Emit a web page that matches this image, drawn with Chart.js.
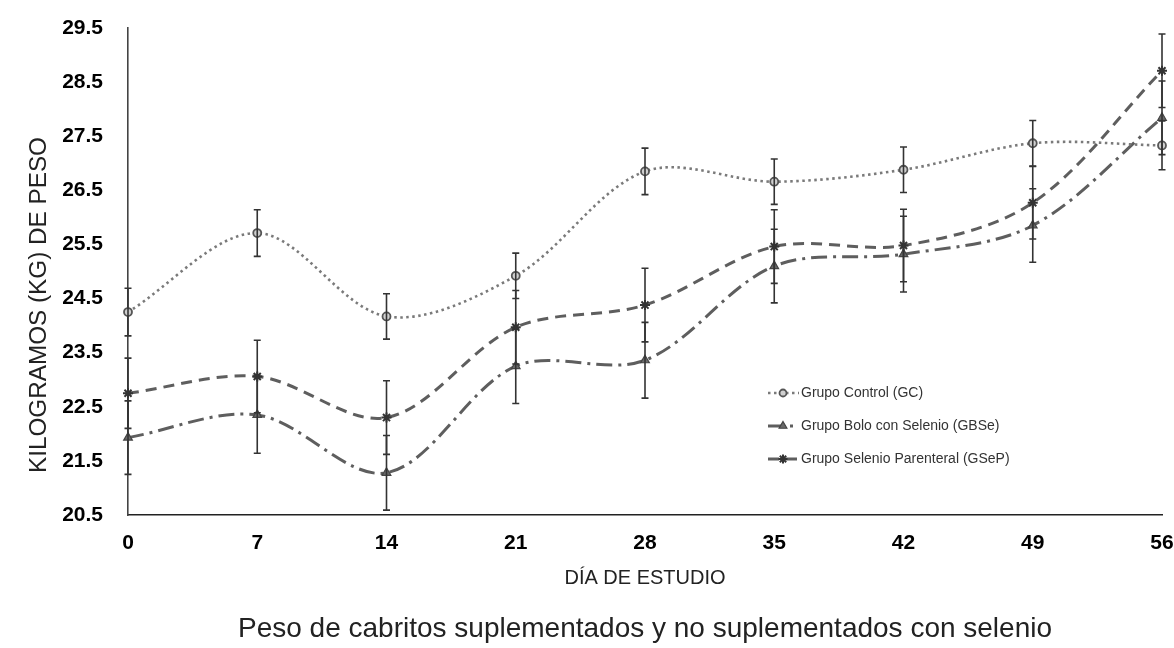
<!DOCTYPE html>
<html>
<head>
<meta charset="utf-8">
<script src="https://cdn.jsdelivr.net/npm/chart.js@4.4.1/dist/chart.umd.min.js"></script>
<style>
  html, body { margin: 0; padding: 0; background: #fff; }
  #wrap { width: 1174px; height: 648px; }
</style>
</head>
<body>
<div id="wrap"><canvas id="chart" width="1174" height="648"></canvas></div>
<script>
// Study days (x axis) and weight ticks (y axis)
const days = [0, 7, 14, 21, 28, 35, 42, 49, 56];
const weightTicks = [20.5, 21.5, 22.5, 23.5, 24.5, 25.5, 26.5, 27.5, 28.5, 29.5];

// Mean weight (kg) per group and its error (±)
const controlMean = [24.25, 25.71, 24.17, 24.92, 26.85, 26.66, 26.88, 27.37, 27.33];
const controlErr  = [0.44, 0.43, 0.42, 0.42, 0.43, 0.42, 0.42, 0.42, 0.45];
const boloMean    = [21.93, 22.35, 21.28, 23.25, 23.36, 25.10, 25.32, 25.85, 27.84];
const boloErr     = [0.68, 0.71, 0.69, 0.69, 0.70, 0.68, 0.70, 0.68, 0.68];
const parentMean  = [22.75, 23.06, 22.30, 23.97, 24.38, 25.46, 25.48, 26.27, 28.71];
const parentErr   = [0.65, 0.67, 0.68, 0.68, 0.68, 0.68, 0.67, 0.67, 0.68];

const seriesLabels = [
  'Grupo Control (GC)',
  'Grupo Bolo con Selenio (GBSe)',
  'Grupo Selenio Parenteral (GSeP)'
];
const yTitle = 'KILOGRAMOS (KG) DE PESO';
const xTitle = 'DÍA DE ESTUDIO';
const caption = 'Peso de cabritos suplementados y no suplementados con selenio';

const FONT = "'Liberation Sans', Arial, Helvetica, sans-serif";

const toPoints = (vals) => days.map((d, i) => ({ x: d, y: vals[i] }));

// Vertical error bars with small caps
const errorBars = {
  id: 'errorBars',
  afterDatasetsDraw(chart) {
    const { ctx, scales: { x, y } } = chart;
    ctx.save();
    ctx.strokeStyle = '#333';
    ctx.lineWidth = 1.6;
    ctx.setLineDash([]);
    chart.data.datasets.forEach(ds => {
      ds.data.forEach((p, i) => {
        const e = ds.errors[i];
        const px = x.getPixelForValue(p.x);
        const top = y.getPixelForValue(p.y + e);
        const bot = y.getPixelForValue(p.y - e);
        ctx.beginPath();
        ctx.moveTo(px, top); ctx.lineTo(px, bot);
        ctx.moveTo(px - 3.5, top); ctx.lineTo(px + 3.5, top);
        ctx.moveTo(px - 3.5, bot); ctx.lineTo(px + 3.5, bot);
        ctx.stroke();
      });
    });
    ctx.restore();
  }
};

// Legend drawn inside the plot, lower right
const insideLegend = {
  id: 'insideLegend',
  afterDraw(chart) {
    const { ctx } = chart;
    const rows = [393, 426, 459];
    ctx.save();
    chart.data.datasets.forEach((ds, i) => {
      const yy = rows[i];
      ctx.strokeStyle = ds.borderColor;
      ctx.lineWidth = ds.borderWidth;
      ctx.setLineDash(ds.borderDash || []);
      ctx.beginPath();
      ctx.moveTo(768, yy); ctx.lineTo(799, yy);
      ctx.stroke();
      ctx.setLineDash([]);
      ctx.fillStyle = ds.pointBackgroundColor;
      ctx.strokeStyle = ds.pointBorderColor;
      ctx.lineWidth = ds.pointBorderWidth;
      Chart.helpers.drawPoint(ctx, {
        pointStyle: ds.pointStyle, rotation: 0,
        radius: ds.pointRadius - 0.5, borderWidth: ds.pointBorderWidth
      }, 783, yy);
      ctx.fillStyle = '#333';
      ctx.font = '14px ' + FONT;
      ctx.textBaseline = 'middle';
      ctx.textAlign = 'left';
      ctx.fillText(ds.label, 801, yy);
    });
    ctx.restore();
  }
};

// Rotated y axis title and the caption under the axis
const outerTexts = {
  id: 'outerTexts',
  afterDraw(chart) {
    const { ctx, chartArea } = chart;
    ctx.save();
    ctx.font = '23px ' + FONT;
    ctx.fillStyle = '#222';
    ctx.textAlign = 'center';
    ctx.textBaseline = 'middle';
    const w = ctx.measureText(yTitle).width;
    ctx.translate(40, 305);
    ctx.rotate(-Math.PI / 2);
    ctx.scale(336 / w, 1);
    ctx.fillText(yTitle, 0, 0);
    ctx.restore();

    ctx.save();
    ctx.font = '28px ' + FONT;
    ctx.fillStyle = '#222';
    ctx.textAlign = 'center';
    ctx.textBaseline = 'middle';
    ctx.fillText(caption, (chartArea.left + chartArea.right) / 2, 629);
    ctx.restore();
  }
};

new Chart(document.getElementById('chart'), {
  type: 'line',
  data: {
    datasets: [
      {
        label: seriesLabels[0],
        data: toPoints(controlMean),
        errors: controlErr,
        borderColor: '#7a7a7a',
        borderWidth: 2.6,
        borderDash: [2.5, 3.5],
        pointStyle: 'circle',
        pointRadius: 4,
        pointBackgroundColor: '#d0d0d0',
        pointBorderColor: '#555',
        pointBorderWidth: 1.8,
        tension: 0.33,
        clip: false
      },
      {
        label: seriesLabels[1],
        data: toPoints(boloMean),
        errors: boloErr,
        borderColor: '#5e5e5e',
        borderWidth: 3,
        borderDash: [16, 6, 3, 6],
        pointStyle: 'triangle',
        pointRadius: 5,
        pointBackgroundColor: '#6a6a6a',
        pointBorderColor: '#444',
        pointBorderWidth: 1.2,
        tension: 0.33,
        clip: false
      },
      {
        label: seriesLabels[2],
        data: toPoints(parentMean),
        errors: parentErr,
        borderColor: '#5e5e5e',
        borderWidth: 3,
        borderDash: [11, 7],
        pointStyle: 'star',
        pointRadius: 5,
        pointBackgroundColor: '#444',
        pointBorderColor: '#333',
        pointBorderWidth: 2,
        tension: 0.33,
        clip: false
      }
    ]
  },
  options: {
    responsive: false,
    animation: false,
    devicePixelRatio: 1,
    layout: { padding: { top: 28, right: 12, left: 0, bottom: 0 } },
    plugins: {
      legend: { display: false },
      tooltip: { enabled: false },
      title: { display: false }
    },
    scales: {
      x: {
        type: 'linear',
        min: 0,
        max: 56,
        afterBuildTicks: (s) => { s.ticks = days.map(v => ({ value: v })); },
        afterFit: (s) => {
          s.height = 648 - 515;
          s.paddingLeft = 0;
          s.paddingRight = 0;
        },
        grid: { display: false, drawTicks: false },
        border: { display: true, color: '#222', width: 1.6 },
        ticks: {
          color: '#000',
          font: { family: FONT, size: 21, weight: 'bold' },
          padding: 16,
          maxRotation: 0,
          autoSkip: false
        },
        title: {
          display: true,
          text: xTitle,
          color: '#222',
          font: { family: FONT, size: 20, weight: 'normal' },
          padding: { top: 0, bottom: 58 }
        }
      },
      y: {
        type: 'linear',
        min: 20.5,
        max: 29.5,
        afterBuildTicks: (s) => { s.ticks = weightTicks.map(v => ({ value: v })); },
        afterFit: (s) => {
          s.width = 128;
          s.paddingTop = 0;
          s.paddingBottom = 0;
        },
        grid: { display: false, drawTicks: false },
        border: { display: true, color: '#444', width: 1.6 },
        ticks: {
          color: '#000',
          font: { family: FONT, size: 21, weight: 'bold' },
          padding: 25,
          callback: (v) => Number(v).toFixed(1)
        }
      }
    }
  },
  plugins: [errorBars, insideLegend, outerTexts]
});
</script>
</body>
</html>
